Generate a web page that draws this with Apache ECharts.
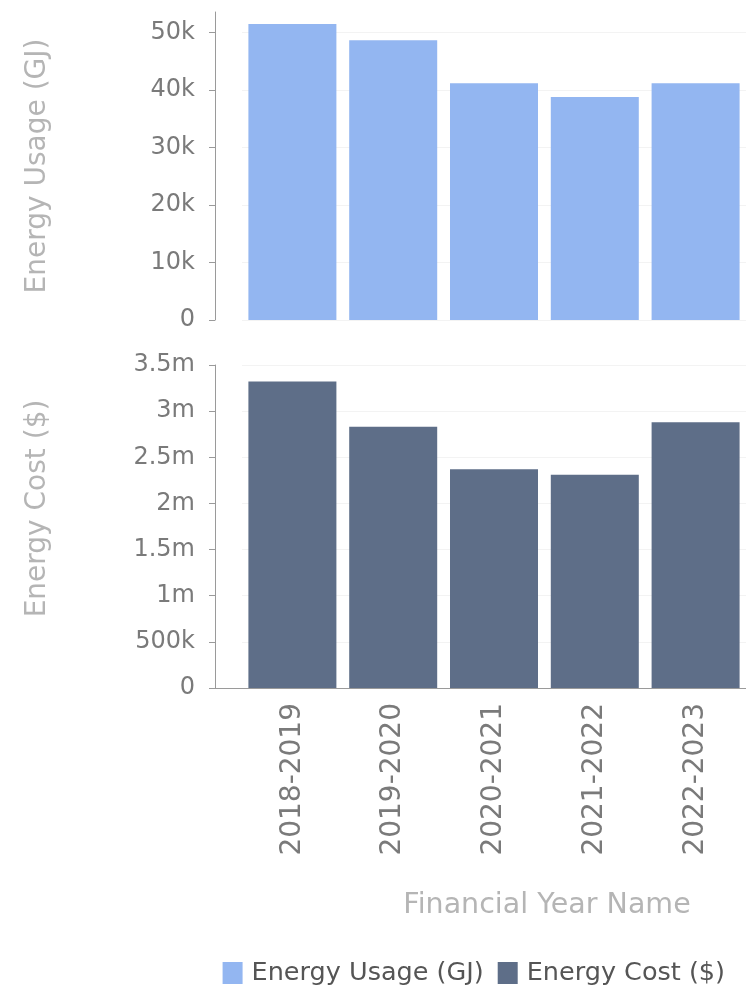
<!DOCTYPE html>
<html>
<head>
<meta charset="utf-8">
<script src="https://cdn.jsdelivr.net/npm/echarts@6/dist/echarts.min.js"></script>
<style>
  html, body { margin: 0; padding: 0; background: #fff; }
  #chart { width: 746px; height: 986px; }
</style>
</head>
<body>
<div id="chart"></div>
<script>
const years = ['2018-2019', '2019-2020', '2020-2021', '2021-2022', '2022-2023'];
const usageGJ = [51500, 48700, 41200, 38800, 41200];
const costDollars = [3320000, 2830000, 2370000, 2310000, 2880000];
const usageTicks = [0, 10000, 20000, 30000, 40000, 50000];
const costTicks = [0, 500000, 1000000, 1500000, 2000000, 2500000, 3000000, 3500000];

const fmt = v => v === 0 ? '0' : v >= 1e6 ? (v / 1e6) + 'm' : (v / 1000) + 'k';
const font = 'DejaVu Sans';
const axisGray = '#9a9a9a';

document.addEventListener('DOMContentLoaded', () => {
  const chart = echarts.init(document.getElementById('chart'));
  chart.setOption({
    animation: false,
    textStyle: { fontFamily: font },
    legend: {
      right: 16,
      top: 955,
      icon: 'rect',
      itemWidth: 20,
      itemHeight: 22,
      itemGap: 14,
      textStyle: { fontSize: 25.5, color: '#555', fontFamily: font, padding: [0, 0, 0, 4] },
      data: ['Energy Usage (GJ)', 'Energy Cost ($)']
    },
    grid: [
      { left: 242, width: 507, top: 12, height: 308 },
      { left: 242, width: 507, top: 365, height: 323 }
    ],
    xAxis: [
      { gridIndex: 0, type: 'category', data: years, show: false },
      {
        gridIndex: 1, type: 'category', data: years,
        axisLine: { lineStyle: { color: axisGray } },
        axisTick: { alignWithLabel: true, length: 6, lineStyle: { color: axisGray } },
        axisLabel: { rotate: 90, margin: 15, fontSize: 28, color: '#7a7a7a' },
        name: 'Financial Year Name',
        nameLocation: 'middle',
        nameGap: 203,
        nameTextStyle: { fontSize: 28.5, color: '#b5b5b5', padding: [0, 0, 0, 106] }
      }
    ],
    yAxis: [
      {
        gridIndex: 0, type: 'value', min: 0, max: 53600, interval: 10000, offset: 27,
        axisLine: { show: true, lineStyle: { color: axisGray } },
        axisTick: { show: true, length: 6, customValues: usageTicks, lineStyle: { color: axisGray } },
        axisLabel: { customValues: usageTicks, formatter: fmt, margin: 20, fontSize: 24, color: '#7a7a7a' },
        splitLine: { lineStyle: { color: '#f3f3f3' } },
        name: 'Energy Usage (GJ)',
        nameLocation: 'middle',
        nameGap: 163,
        nameTextStyle: { fontSize: 28, color: '#b5b5b5' }
      },
      {
        gridIndex: 1, type: 'value', min: 0, max: 3500000, interval: 500000, offset: 27,
        axisLine: { show: true, lineStyle: { color: axisGray } },
        axisTick: { show: true, length: 6, customValues: costTicks, lineStyle: { color: axisGray } },
        axisLabel: { customValues: costTicks, formatter: fmt, margin: 20, fontSize: 24, color: '#7a7a7a' },
        splitLine: { lineStyle: { color: '#f3f3f3' } },
        name: 'Energy Cost ($)',
        nameLocation: 'middle',
        nameGap: 163,
        nameTextStyle: { fontSize: 28, color: '#b5b5b5', padding: [0, 0, 0, 36] }
      }
    ],
    graphic: [{
      type: 'line',
      shape: { x1: 210, y1: 688.5, x2: 243, y2: 688.5 },
      style: { stroke: axisGray, lineWidth: 1 }
    }],
    series: [
      {
        name: 'Energy Usage (GJ)', type: 'bar',
        xAxisIndex: 0, yAxisIndex: 0,
        barWidth: 88,
        itemStyle: { color: '#93b6f1' },
        data: usageGJ
      },
      {
        name: 'Energy Cost ($)', type: 'bar',
        xAxisIndex: 1, yAxisIndex: 1,
        barWidth: 88,
        itemStyle: { color: '#5e6e88' },
        data: costDollars
      }
    ]
  });
});
</script>
</body>
</html>
